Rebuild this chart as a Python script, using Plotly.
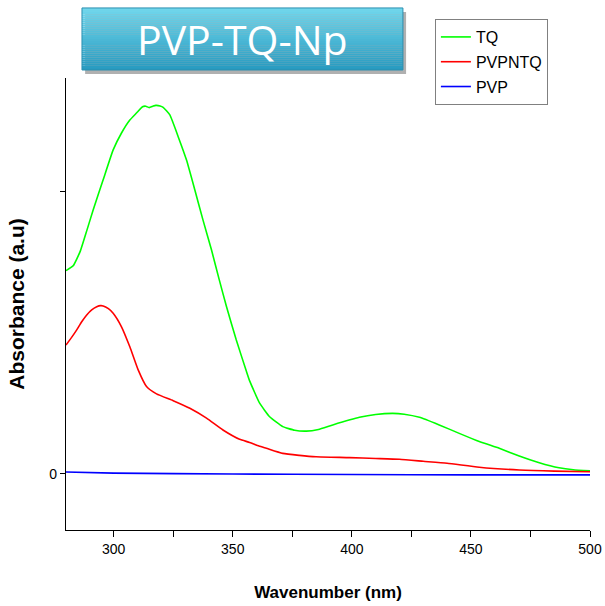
import plotly.graph_objects as go

# ---- data ----
tq_nm = [280, 283, 286, 288.7, 291.4, 295.6, 299.8, 303.3, 306.8, 309.6, 312.1, 313.5,
         314.9, 316.5, 317.7, 319.5, 320.8, 323.6, 327.1, 330.6, 334.1, 337.5, 341.1,
         344.3, 347.4, 351.5, 355.7, 357.1, 361.3, 365.5, 371, 376, 380.9, 386, 392,
         403.2, 410, 417.2, 422, 428.4, 436.7, 445.1, 453.5, 461.9, 470.3, 478.7, 487,
         493, 500]
tq_abs = [0.721, 0.738, 0.790, 0.862, 0.936, 1.043, 1.149, 1.209, 1.255, 1.280, 1.302, 1.304,
          1.299, 1.304, 1.307, 1.305, 1.300, 1.273, 1.196, 1.113, 1.007, 0.901, 0.794,
          0.690, 0.593, 0.475, 0.365, 0.330, 0.251, 0.203, 0.168, 0.155, 0.152, 0.158, 0.174,
          0.201, 0.211, 0.215, 0.212, 0.201, 0.174, 0.144, 0.115, 0.091, 0.064, 0.040, 0.022,
          0.015, 0.011]

pvpntq_nm = [280, 282.5, 284.5, 286.6, 288.7, 290.8, 292.9, 294.5, 295.6, 297.8, 299.8,
             303.3, 306.8, 310.3, 313.8, 318, 325, 332, 339, 345.9, 352.9, 357.1, 361,
             364.1, 371, 378, 385, 399, 410, 420, 430, 440, 453.5, 470.3, 485, 500]
pvpntq_abs = [0.457, 0.486, 0.511, 0.540, 0.564, 0.582, 0.593, 0.597, 0.596, 0.586, 0.570,
              0.522, 0.451, 0.369, 0.310, 0.284, 0.260, 0.233, 0.198, 0.156, 0.123, 0.112, 0.099,
              0.091, 0.073, 0.066, 0.061, 0.058, 0.055, 0.052, 0.045, 0.038, 0.024, 0.014, 0.010,
              0.008]

pvp_nm = [280, 300, 350, 400, 450, 500]
pvp_abs = [0.007, 0.003, 0.0, -0.002, -0.003, -0.003]

x_ticks = [300, 350, 400, 450, 500]
y_ticks = [0, 1]
y_ticktext = ["0", ""]

FONT = "Liberation Sans"

fig = go.Figure()
fig.add_trace(go.Scatter(x=tq_nm, y=tq_abs, mode="lines", name="TQ", legendgroup="a",
                         line=dict(color="#00ff00", width=1.6, shape="spline", smoothing=0.4)))
fig.add_trace(go.Scatter(x=pvpntq_nm, y=pvpntq_abs, mode="lines", name="PVPNTQ", legendgroup="b",
                         line=dict(color="#ff0000", width=1.6, shape="spline", smoothing=0.5)))
fig.add_trace(go.Scatter(x=pvp_nm, y=pvp_abs, mode="lines", name="PVP", legendgroup="c",
                         line=dict(color="#0000ff", width=1.6, shape="spline", smoothing=0.5)))

# title box with vertical gradient (stacked stripes)
x0, x1 = 0.0305, 0.643
y0, y1 = 1.0177, 1.155
shapes = []
shapes.append(dict(type="rect", xref="paper", yref="paper", x0=x0 + 0.006, x1=x1 + 0.006,
                   y0=y0 - 0.009, y1=y1 - 0.009, fillcolor="rgba(80,80,80,0.45)",
                   line=dict(width=0), layer="below"))
n = 30
top = (112, 214, 236)
bot = (40, 155, 192)
for i in range(n):
    t = i / (n - 1)
    c = tuple(int(round(top[k] + (bot[k] - top[k]) * t)) for k in range(3))
    ya = y1 - (y1 - y0) * i / n
    yb = y1 - (y1 - y0) * (i + 1) / n
    shapes.append(dict(type="rect", xref="paper", yref="paper", x0=x0, x1=x1, y0=yb, y1=ya,
                       fillcolor="rgb(%d,%d,%d)" % c, line=dict(width=0), layer="below"))
shapes.append(dict(type="rect", xref="paper", yref="paper", x0=x0, x1=x1, y0=y0, y1=y1,
                   fillcolor="rgba(0,0,0,0)", line=dict(color="#2a8fb0", width=1), layer="below"))

fig.update_layout(
    width=605, height=606,
    margin=dict(l=66, r=15, t=78, b=76),
    paper_bgcolor="white", plot_bgcolor="white",
    shapes=shapes,
    annotations=[dict(text="PVP-TQ-Np", xref="paper", yref="paper", x=(x0 + x1) / 2,
                      y=(y0 + y1) / 2, showarrow=False, xanchor="center", yanchor="middle",
                      font=dict(family="Open Sans", size=41, color="white"))],
    legend=dict(x=0.704, y=1.1305, xanchor="left", yanchor="top", bgcolor="white",
                bordercolor="#808080", borderwidth=1, tracegroupgap=1, itemwidth=30,
                font=dict(family=FONT, size=16, color="black")),
    xaxis=dict(range=[280, 500], tickvals=x_ticks, ticks="outside", ticklen=6, tickwidth=1,
               tickcolor="black", showline=True, linecolor="black", linewidth=1.2,
               showgrid=False, zeroline=False, automargin=False,
               minor=dict(dtick=25, tick0=275, ticks="outside", ticklen=6, tickcolor="black", showgrid=False),
               tickfont=dict(family=FONT, size=14, color="black"),
               title=dict(text="Wavenumber (nm)", standoff=30,
                          font=dict(family=FONT, size=17, color="black", weight="bold"))),
    yaxis=dict(range=[-0.1986, 1.404], tickvals=y_ticks, ticktext=y_ticktext, ticks="outside",
               ticklen=5, tickwidth=1, tickcolor="black", showline=True, linecolor="black",
               linewidth=1.2, showgrid=False, zeroline=False, automargin=False,
               tickfont=dict(family=FONT, size=14, color="black"),
               title=dict(text="Absorbance (a.u)", standoff=18,
                          font=dict(family=FONT, size=21, color="black", weight="bold"))),
)

fig.write_html("out.html")
